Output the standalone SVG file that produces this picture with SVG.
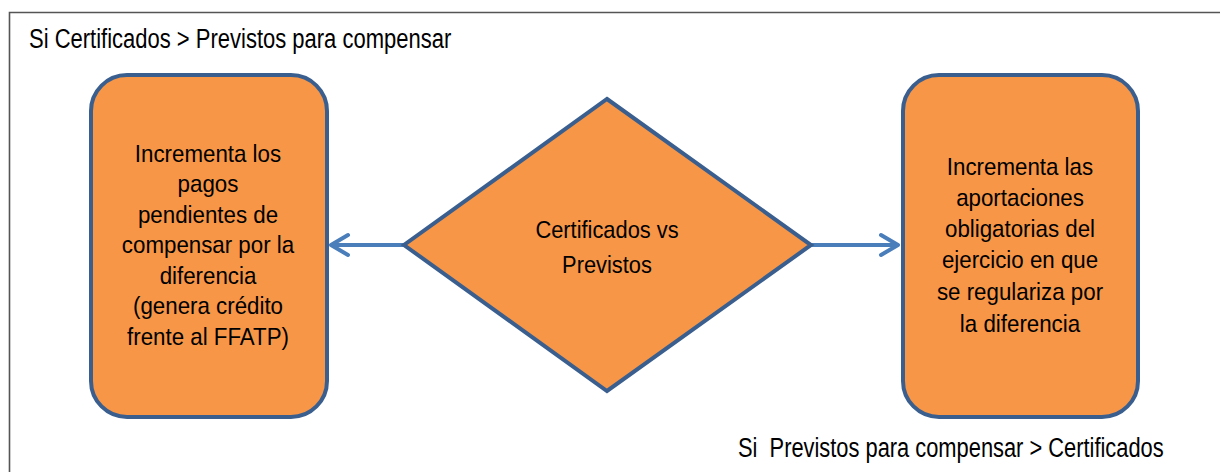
<svg xmlns="http://www.w3.org/2000/svg" width="1220" height="472" viewBox="0 0 1220 472">
<style>
.shape{fill:#F79646;stroke:#3A5F8F;stroke-width:4;stroke-linejoin:miter}
.t{font-family:"Liberation Sans",Arial,sans-serif;font-size:24px;fill:#000;text-anchor:middle}
.lbl{font-family:"Liberation Sans",Arial,sans-serif;font-size:27px;fill:#000}
.conn{fill:none;stroke:#4A7EBB;stroke-width:4;stroke-linecap:round;stroke-linejoin:round}
</style>
<rect width="1220" height="472" fill="#fff"/>
<path d="M9.5,472 V12.5 H1220" fill="none" stroke="#555" stroke-width="1.6"/>
<g id="label-top"><text class="lbl" transform="translate(29 48) scale(0.815 1)">Si Certificados &gt; Previstos para compensar</text></g>
<g id="label-bottom"><text class="lbl" transform="translate(738 457) scale(0.81 1)" xml:space="preserve">Si  Previstos para compensar &gt; Certificados</text></g>
<g id="connectors">
<path class="conn" d="M404,245 H332 M348,235 L331,245 L348,255"/>
<path class="conn" d="M811,245 H898 M881,235 L898,245 L881,255"/>
</g>
<g id="node-left">
<rect class="shape" x="91" y="75" width="236" height="342" rx="36" ry="36"/>
<g transform="translate(208 0) scale(0.93 1)">
<text class="t" x="0" y="162">Incrementa los</text>
<text class="t" x="0" y="192.5">pagos</text>
<text class="t" x="0" y="223">pendientes de</text>
<text class="t" x="0" y="253.5">compensar por la</text>
<text class="t" x="0" y="284">diferencia</text>
<text class="t" x="0" y="314.5">(genera crédito</text>
<text class="t" x="0" y="345">frente al FFATP)</text>
</g>
</g>
<g id="node-decision">
<polygon class="shape" points="607,99 811,245 607,391 404,245"/>
<g transform="translate(607 0) scale(0.91 1)">
<text class="t" x="0" y="238">Certificados vs</text>
<text class="t" x="0" y="273">Previstos</text>
</g>
</g>
<g id="node-right">
<rect class="shape" x="903" y="75" width="235" height="342" rx="36" ry="36"/>
<g transform="translate(1020 0) scale(0.93 1)">
<text class="t" x="0" y="175">Incrementa las</text>
<text class="t" x="0" y="206">aportaciones</text>
<text class="t" x="0" y="237.5">obligatorias del</text>
<text class="t" x="0" y="268.5">ejercicio en que</text>
<text class="t" x="0" y="300">se regulariza por</text>
<text class="t" x="0" y="332">la diferencia</text>
</g>
</g>
</svg>
